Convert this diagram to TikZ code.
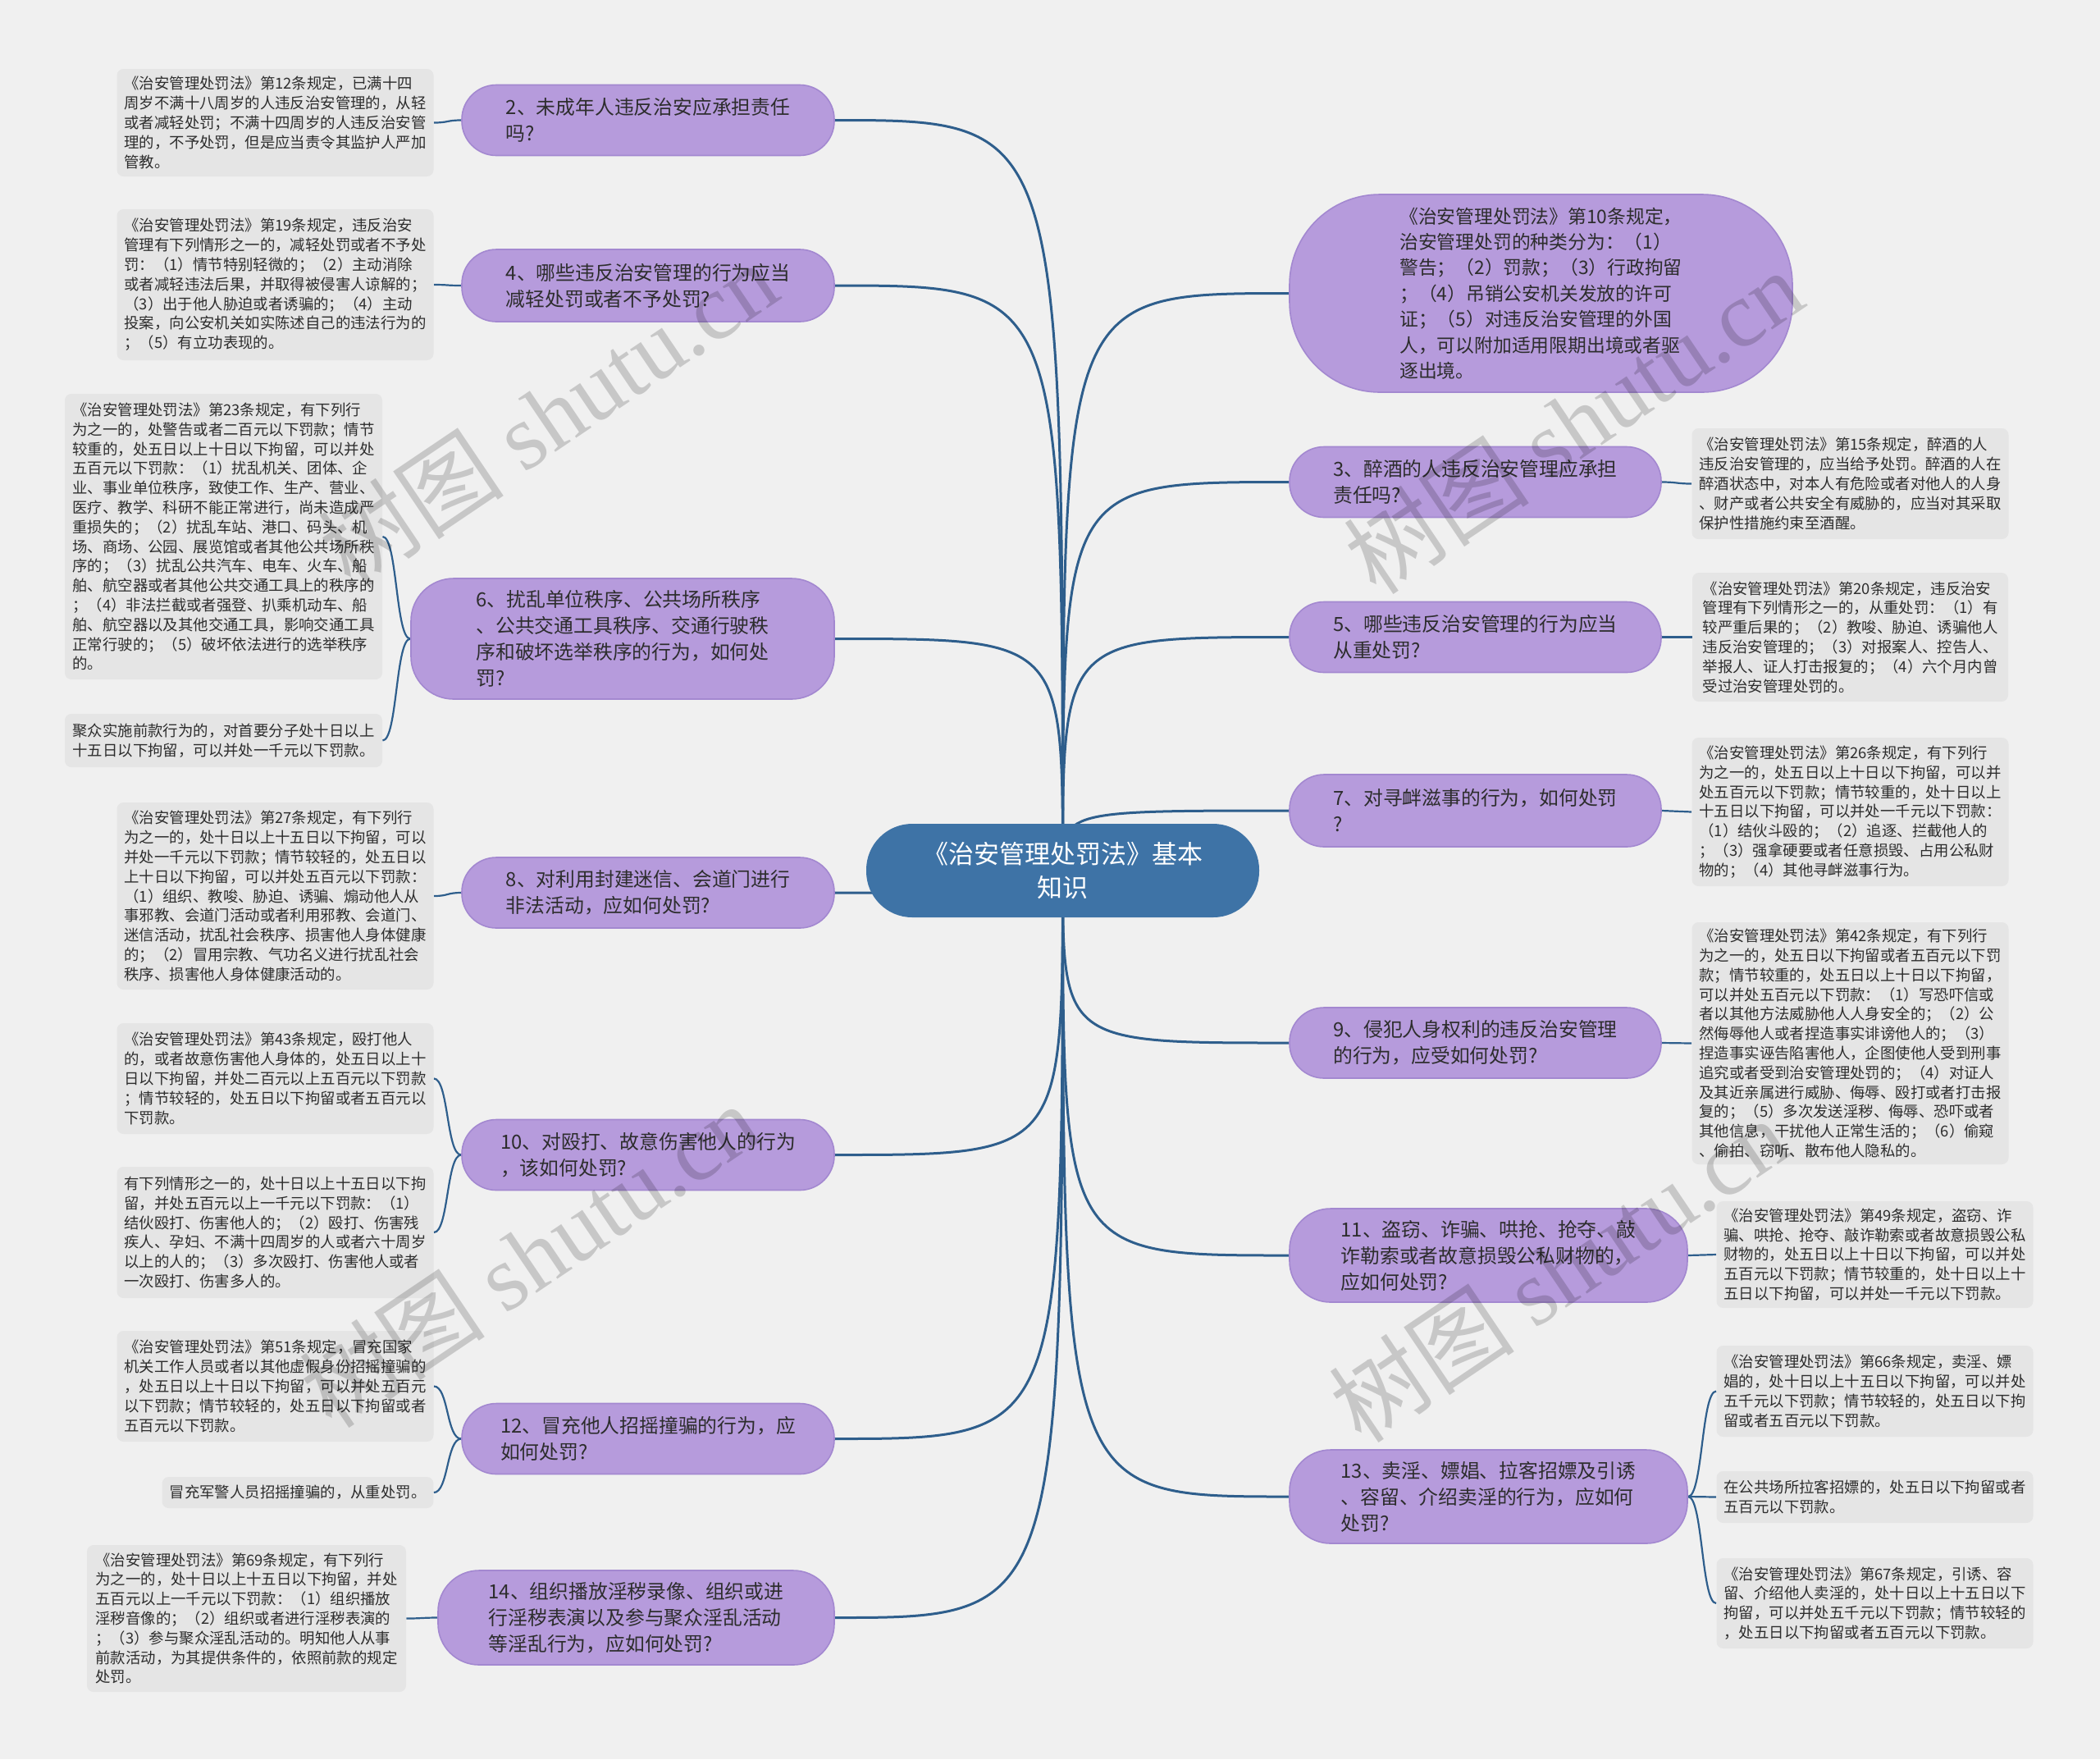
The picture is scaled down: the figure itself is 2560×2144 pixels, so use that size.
\documentclass[tikz,border=0pt]{standalone}
\usepackage{fontspec}
\setmainfont{Noto Sans CJK SC}
\newfontfamily\wmfont{Liberation Serif}
\usetikzlibrary{calc}
\definecolor{bgc}{RGB}{240,240,240}
\definecolor{leafc}{RGB}{229,229,229}
\definecolor{purp}{RGB}{182,155,220}
\definecolor{purpd}{RGB}{163,136,208}
\definecolor{rootc}{RGB}{62,115,166}
\definecolor{linec}{RGB}{46,94,140}
\definecolor{txt}{RGB}{45,45,45}
\pgfdeclarelayer{bg}
\pgfdeclarelayer{fg}
\pgfsetlayers{bg,main,fg}
\begin{document}
\begin{tikzpicture}[x=0.5pt,y=-0.5pt,
  leaf/.style={fill=leafc, rounded corners=4pt, inner xsep=4.5pt, inner ysep=2pt, align=left,
    minimum width=192.5pt, font=\fontsize{9.2pt}{11.9pt}\selectfont, text=txt},
  branch/.style={fill=purp, draw=purpd, line width=0.8pt, align=left, minimum width=227pt,
    minimum height=43pt, rounded corners=21pt, font=\fontsize{11.9pt}{16pt}\selectfont, text=txt},
  rootn/.style={fill=rootc, align=center, minimum width=239.5pt, minimum height=57pt,
    rounded corners=28pt, font=\fontsize{15.5pt}{20.5pt}\selectfont, text=white},
  trunk/.style={draw=linec, line width=1.5pt},
  twig/.style={draw=linec, line width=1.1pt},
  wm/.style={font=\fontsize{57pt}{57pt}\selectfont, text=black, text opacity=0.17, inner sep=0pt}
]
\useasboundingbox (0,0) rectangle (2560,2144);

% root
\node[rootn] (root) at (1295.5,1061) {《治安管理处罚法》基本\\知识};

% left branches
\node[branch] (L1) at (790,146.5) {2、未成年人违反治安应承担责任\\吗?};
\node[branch, minimum height=44pt] (L2) at (790,348) {4、哪些违反治安管理的行为应当\\减轻处罚或者不予处罚?};
\node[branch, minimum width=258pt, minimum height=73.5pt, rounded corners=26pt] (L3) at (759,778.5) {6、扰乱单位秩序、公共场所秩序\\、公共交通工具秩序、交通行驶秩\\序和破坏选举秩序的行为，如何处\\罚?};
\node[branch] (L4) at (790,1088) {8、对利用封建迷信、会道门进行\\非法活动，应如何处罚?};
\node[branch] (L5) at (790,1407.5) {10、对殴打、故意伤害他人的行为\\，该如何处罚?};
\node[branch] (L6) at (790,1753.5) {12、冒充他人招摇撞骗的行为，应\\如何处罚?};
\node[branch, minimum width=241.5pt, minimum height=57.5pt, rounded corners=25pt] (L7) at (775.5,1971.5) {14、组织播放淫秽录像、组织或进\\行淫秽表演以及参与聚众淫乱活动\\等淫乱行为，应如何处罚?};

% right branches
\node[branch, minimum width=306.5pt, minimum height=120.5pt, rounded corners=55pt, font=\fontsize{11.4pt}{15.7pt}\selectfont] (R0) at (1878.5,357.5) {《治安管理处罚法》第10条规定，\\治安管理处罚的种类分为：（1）\\警告；（2）罚款；（3）行政拘留\\；（4）吊销公安机关发放的许可\\证；（5）对违反治安管理的外国\\人，可以附加适用限期出境或者驱\\逐出境。};
\node[branch, minimum width=226.5pt] (R1) at (1798.5,587.5) {3、醉酒的人违反治安管理应承担\\责任吗?};
\node[branch, minimum width=226.5pt] (R2) at (1798.5,776.5) {5、哪些违反治安管理的行为应当\\从重处罚?};
\node[branch, minimum width=226.5pt, minimum height=44pt] (R3) at (1798.5,988) {7、对寻衅滋事的行为，如何处罚\\?};
\node[branch, minimum width=226.5pt] (R4) at (1798.5,1271) {9、侵犯人身权利的违反治安管理\\的行为，应受如何处罚?};
\node[branch, minimum width=242.5pt, minimum height=57pt, rounded corners=25pt] (R5) at (1814.5,1530) {11、盗窃、诈骗、哄抢、抢夺、敲\\诈勒索或者故意损毁公私财物的，\\应如何处罚?};
\node[branch, minimum width=242.5pt, minimum height=57pt, rounded corners=25pt] (R6) at (1814.5,1824) {13、卖淫、嫖娼、拉客招嫖及引诱\\、容留、介绍卖淫的行为，应如何\\处罚?};

% left leaves
\node[leaf, minimum height=65.5pt] (LL1) at (335.5,149.5) {《治安管理处罚法》第12条规定，已满十四\\周岁不满十八周岁的人违反治安管理的，从轻\\或者减轻处罚；不满十四周岁的人违反治安管\\理的，不予处罚，但是应当责令其监护人严加\\管教。};
\node[leaf, minimum height=92pt] (LL2) at (335.5,347) {《治安管理处罚法》第19条规定，违反治安\\管理有下列情形之一的，减轻处罚或者不予处\\罚：（1）情节特别轻微的；（2）主动消除\\或者减轻违法后果，并取得被侵害人谅解的；\\（3）出于他人胁迫或者诱骗的；（4）主动\\投案，向公安机关如实陈述自己的违法行为的\\；（5）有立功表现的。};
\node[leaf, minimum width=193.5pt, minimum height=174pt] (LL3) at (272.5,654) {《治安管理处罚法》第23条规定，有下列行\\为之一的，处警告或者二百元以下罚款；情节\\较重的，处五日以上十日以下拘留，可以并处\\五百元以下罚款：（1）扰乱机关、团体、企\\业、事业单位秩序，致使工作、生产、营业、\\医疗、教学、科研不能正常进行，尚未造成严\\重损失的；（2）扰乱车站、港口、码头、机\\场、商场、公园、展览馆或者其他公共场所秩\\序的；（3）扰乱公共汽车、电车、火车、船\\舶、航空器或者其他公共交通工具上的秩序的\\；（4）非法拦截或者强登、扒乘机动车、船\\舶、航空器以及其他交通工具，影响交通工具\\正常行驶的；（5）破坏依法进行的选举秩序\\的。};
\node[leaf, minimum width=193.5pt, minimum height=32.5pt] (LL3b) at (272.5,902.5) {聚众实施前款行为的，对首要分子处十日以上\\十五日以下拘留，可以并处一千元以下罚款。};
\node[leaf, minimum height=114pt] (LL4) at (335.5,1092) {《治安管理处罚法》第27条规定，有下列行\\为之一的，处十日以上十五日以下拘留，可以\\并处一千元以下罚款；情节较轻的，处五日以\\上十日以下拘留，可以并处五百元以下罚款：\\（1）组织、教唆、胁迫、诱骗、煽动他人从\\事邪教、会道门活动或者利用邪教、会道门、\\迷信活动，扰乱社会秩序、损害他人身体健康\\的；（2）冒用宗教、气功名义进行扰乱社会\\秩序、损害他人身体健康活动的。};
\node[leaf, minimum height=67.5pt] (LL5) at (335.5,1314.5) {《治安管理处罚法》第43条规定，殴打他人\\的，或者故意伤害他人身体的，处五日以上十\\日以下拘留，并处二百元以上五百元以下罚款\\；情节较轻的，处五日以下拘留或者五百元以\\下罚款。};
\node[leaf, minimum height=80pt] (LL5b) at (335.5,1502) {有下列情形之一的，处十日以上十五日以下拘\\留，并处五百元以上一千元以下罚款：（1）\\结伙殴打、伤害他人的；（2）殴打、伤害残\\疾人、孕妇、不满十四周岁的人或者六十周岁\\以上的人的；（3）多次殴打、伤害他人或者\\一次殴打、伤害多人的。};
\node[leaf, minimum height=67.5pt] (LL6) at (335.5,1689.5) {《治安管理处罚法》第51条规定，冒充国家\\机关工作人员或者以其他虚假身份招摇撞骗的\\，处五日以上十日以下拘留，可以并处五百元\\以下罚款；情节较轻的，处五日以下拘留或者\\五百元以下罚款。};
\node[leaf, minimum width=165pt, minimum height=19pt] (LL6b) at (363,1819) {冒充军警人员招摇撞骗的，从重处罚。};
\node[leaf, minimum width=194.5pt, minimum height=89.5pt] (LL7) at (300.5,1972.5) {《治安管理处罚法》第69条规定，有下列行\\为之一的，处十日以上十五日以下拘留，并处\\五百元以上一千元以下罚款：（1）组织播放\\淫秽音像的；（2）组织或者进行淫秽表演的\\；（3）参与聚众淫乱活动的。明知他人从事\\前款活动，为其提供条件的，依照前款的规定\\处罚。};

% right leaves
\node[leaf, minimum height=67.5pt] (RL1) at (2255.5,589.5) {《治安管理处罚法》第15条规定，醉酒的人\\违反治安管理的，应当给予处罚。醉酒的人在\\醉酒状态中，对本人有危险或者对他人的人身\\、财产或者公共安全有威胁的，应当对其采取\\保护性措施约束至酒醒。};
\node[leaf, minimum height=78.5pt] (RL2) at (2255.5,776.5) {《治安管理处罚法》第20条规定，违反治安\\管理有下列情形之一的，从重处罚：（1）有\\较严重后果的；（2）教唆、胁迫、诱骗他人\\违反治安管理的；（3）对报案人、控告人、\\举报人、证人打击报复的；（4）六个月内曾\\受过治安管理处罚的。};
\node[leaf, minimum height=90.5pt] (RL3) at (2255.5,989.5) {《治安管理处罚法》第26条规定，有下列行\\为之一的，处五日以上十日以下拘留，可以并\\处五百元以下罚款；情节较重的，处十日以上\\十五日以下拘留，可以并处一千元以下罚款：\\（1）结伙斗殴的；（2）追逐、拦截他人的\\；（3）强拿硬要或者任意损毁、占用公私财\\物的；（4）其他寻衅滋事行为。};
\node[leaf, minimum height=147.5pt] (RL4) at (2255.5,1271.5) {《治安管理处罚法》第42条规定，有下列行\\为之一的，处五日以下拘留或者五百元以下罚\\款；情节较重的，处五日以上十日以下拘留，\\可以并处五百元以下罚款：（1）写恐吓信或\\者以其他方法威胁他人人身安全的；（2）公\\然侮辱他人或者捏造事实诽谤他人的；（3）\\捏造事实诬告陷害他人，企图使他人受到刑事\\追究或者受到治安管理处罚的；（4）对证人\\及其近亲属进行威胁、侮辱、殴打或者打击报\\复的；（5）多次发送淫秽、侮辱、恐吓或者\\其他信息，干扰他人正常生活的；（6）偷窥\\、偷拍、窃听、散布他人隐私的。};
\node[leaf, minimum height=65pt] (RL5) at (2285.5,1529) {《治安管理处罚法》第49条规定，盗窃、诈\\骗、哄抢、抢夺、敲诈勒索或者故意损毁公私\\财物的，处五日以上十日以下拘留，可以并处\\五百元以下罚款；情节较重的，处十日以上十\\五日以下拘留，可以并处一千元以下罚款。};
\node[leaf, minimum height=55.5pt] (RL6) at (2285.5,1695.5) {《治安管理处罚法》第66条规定，卖淫、嫖\\娼的，处十日以上十五日以下拘留，可以并处\\五千元以下罚款；情节较轻的，处五日以下拘\\留或者五百元以下罚款。};
\node[leaf, minimum height=31.5pt] (RL6b) at (2285.5,1824.5) {在公共场所拉客招嫖的，处五日以下拘留或者\\五百元以下罚款。};
\node[leaf, minimum height=55pt] (RL6c) at (2285.5,1954) {《治安管理处罚法》第67条规定，引诱、容\\留、介绍他人卖淫的，处十日以上十五日以下\\拘留，可以并处五千元以下罚款；情节较轻的\\，处五日以下拘留或者五百元以下罚款。};

\begin{pgfonlayer}{bg}
\fill[bgc] (0,0) rectangle (2560,2144);
\foreach \b in {L1,L2,L3,L4,L5,L6,L7}
  \draw[trunk] (root.center) .. controls (root.center |- \b.east) .. (\b.east);
\foreach \b in {R0,R1,R2,R3,R4,R5,R6}
  \draw[trunk] (root.center) .. controls (root.center |- \b.west) .. (\b.west);
\foreach \a/\b in {L1/LL1,L2/LL2,L3/LL3,L3/LL3b,L4/LL4,L5/LL5,L5/LL5b,L6/LL6,L6/LL6b,L7/LL7}
  \draw[twig] (\a.west) .. controls +(-18,0) and +(18,0) .. (\b.east);
\foreach \a/\b in {R1/RL1,R2/RL2,R3/RL3,R4/RL4,R5/RL5,R6/RL6,R6/RL6b,R6/RL6c}
  \draw[twig] (\a.east) .. controls +(18,0) and +(-18,0) .. (\b.west);
\end{pgfonlayer}

\begin{pgfonlayer}{fg}
\node[wm, rotate=34] (w1) at (668,505) {树图 {\wmfont shutu.cn}};
\node[wm, rotate=34] (w2) at (1918,514) {树图 {\wmfont shutu.cn}};
\node[wm, rotate=34] (w3) at (645,1530) {树图 {\wmfont shutu.cn}};
\node[wm, rotate=34] (w4) at (1900,1548) {树图 {\wmfont shutu.cn}};
\end{pgfonlayer}
\end{tikzpicture}
\end{document}
